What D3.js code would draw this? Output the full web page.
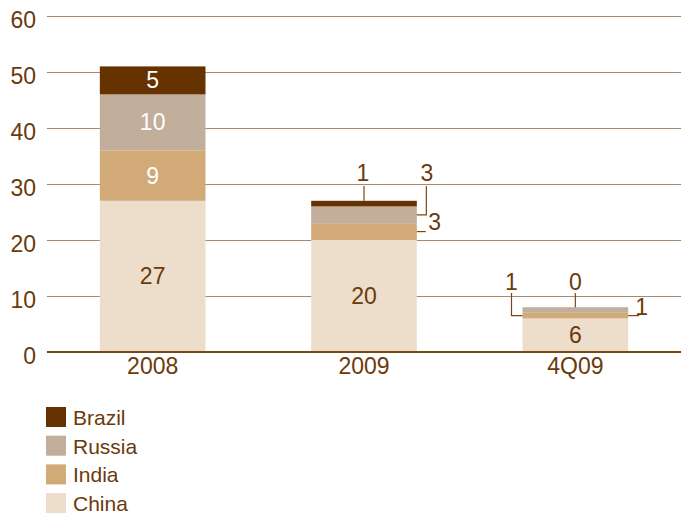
<!DOCTYPE html>
<html>
<head>
<meta charset="utf-8">
<script src="https://cdn.jsdelivr.net/npm/d3@7"></script>
<style>
  html, body { margin: 0; padding: 0; background: #fff; }
  svg { display: block; font-family: "Liberation Sans", Arial, Helvetica, sans-serif; }
</style>
</head>
<body>
<svg id="chart" width="681" height="515"></svg>
<script>
// Periods on the x axis
const categories = ["2008", "2009", "4Q09"];
// Stack order from bottom to top
const seriesNames = ["China", "India", "Russia", "Brazil"];
const china  = [27, 20, 6];
const india  = [9, 3, 1];
const russia = [10, 3, 1];
const brazil = [5, 1, 0];
const yTicks = [0, 10, 20, 30, 40, 50, 60];
// Legend reads top to bottom
const legendOrder = ["Brazil", "Russia", "India", "China"];

const colors = {
  Brazil: "#663300",
  Russia: "#c1ae9b",
  India:  "#d1aa78",
  China:  "#ecdecb"
};
const textBrown = "#6b3a0c";

const rows = categories.map((c, i) => ({
  cat: c, China: china[i], India: india[i], Russia: russia[i], Brazil: brazil[i]
}));
const stacked = d3.stack().keys(seriesNames)(rows);

const svg = d3.select("#chart");
const plotLeft = 47, plotRight = 681, plotTop = 16, plotBottom = 352;

const x = d3.scaleBand().domain(categories).range([plotLeft, plotRight]).paddingInner(0.5).paddingOuter(0.25);
const y = d3.scaleLinear().domain([0, 60]).range([plotBottom, plotTop]);

// Horizontal gridlines and value labels
const yAxis = d3.axisLeft(y).tickValues(yTicks).tickSize(-(plotRight - plotLeft)).tickPadding(11);
const gy = svg.append("g").attr("transform", `translate(${plotLeft},0)`).call(yAxis);
gy.select(".domain").remove();
gy.selectAll(".tick line").attr("stroke", "#a58a6c").attr("stroke-width", 1)
  .filter(d => d === 0).remove();
gy.selectAll(".tick text")
  .attr("fill", textBrown).attr("font-size", 23)
  .attr("dy", null).attr("y", 11);

// Bars
const layer = svg.append("g").selectAll("g").data(stacked).join("g")
  .attr("fill", d => colors[d.key]);
layer.selectAll("rect").data(d => d.map(v => ({ key: d.key, v })))
  .join("rect")
  .attr("x", d => x(d.v.data.cat))
  .attr("width", x.bandwidth())
  .attr("y", d => y(d.v[1]))
  .attr("height", d => y(d.v[0]) - y(d.v[1]));

// Baseline
svg.append("line")
  .attr("x1", plotLeft).attr("x2", plotRight)
  .attr("y1", y(0)).attr("y2", y(0))
  .attr("stroke", "#7a4614").attr("stroke-width", 2);

// Category labels
const xAxis = d3.axisBottom(x).tickSize(0).tickPadding(0);
const gx = svg.append("g").attr("transform", `translate(0,${plotBottom})`).call(xAxis);
gx.select(".domain").remove();
gx.selectAll(".tick text")
  .attr("fill", textBrown).attr("font-size", 23)
  .attr("dy", null).attr("y", 22);

// Value labels inside segments that are tall enough
const labelG = svg.append("g").attr("font-size", 23).attr("text-anchor", "middle");
stacked.forEach(s => {
  s.forEach(v => {
    const val = v.data[s.key];
    const h = y(v[0]) - y(v[1]);
    if (h < 20) return;
    labelG.append("text")
      .attr("x", x(v.data.cat) + x.bandwidth() / 2)
      .attr("y", (y(v[0]) + y(v[1])) / 2 + 8)
      .attr("fill", s.key === "China" ? textBrown : "#ffffff")
      .text(val);
  });
});

// Leader lines for thin segments
const seg = (cat, key) => {
  const s = stacked.find(k => k.key === key);
  const v = s[categories.indexOf(cat)];
  return { val: v.data[key], y0: y(v[0]), y1: y(v[1]), mid: (y(v[0]) + y(v[1])) / 2 };
};
const callG = svg.append("g");
const lineColor = "#7a4614";
function leader(points) {
  callG.append("path")
    .attr("d", d3.line()(points))
    .attr("fill", "none").attr("stroke", lineColor).attr("stroke-width", 1.2);
}
function callText(tx, ty, txt, anchor) {
  callG.append("text").attr("x", tx).attr("y", ty)
    .attr("text-anchor", anchor || "middle")
    .attr("font-size", 23).attr("fill", textBrown).text(txt);
}

// 2009
{
  const cx = x("2009") + x.bandwidth() / 2, xr = x("2009") + x.bandwidth();
  const br = seg("2009", "Brazil"), ru = seg("2009", "Russia"), ind = seg("2009", "India");
  leader([[cx, 186], [cx, br.y1]]);
  callText(cx - 1, 181, br.val);
  leader([[xr, ru.mid], [xr + 9.5, ru.mid], [xr + 9.5, 186]]);
  callText(xr + 10, 181, ru.val);
  leader([[xr, ind.mid], [xr + 9, ind.mid]]);
  callText(xr + 11.5, 230, ind.val, "start");
}
// 4Q09
{
  const x0 = x("4Q09"), cx = x0 + x.bandwidth() / 2, xr = x0 + x.bandwidth();
  const br = seg("4Q09", "Brazil"), ru = seg("4Q09", "Russia"), ind = seg("4Q09", "India");
  leader([[cx, 293], [cx, br.y1]]);
  callText(cx, 290, br.val);
  leader([[x0 - 11, 293], [x0 - 11, ind.mid], [x0, ind.mid]]);
  callText(x0 - 11, 290, ru.val);
  leader([[xr, ind.mid], [xr + 11, ind.mid]]);
  callText(xr + 7, 315, ind.val, "start");
}

// Legend
const lg = svg.append("g").selectAll("g").data(legendOrder).join("g")
  .attr("transform", (d, i) => `translate(46,${407 + i * 28.7})`);
lg.append("rect").attr("width", 20).attr("height", 20).attr("fill", d => colors[d]);
lg.append("text").attr("x", 27).attr("y", 18)
  .attr("font-size", 21).attr("fill", textBrown).text(d => d);
</script>
</body>
</html>
